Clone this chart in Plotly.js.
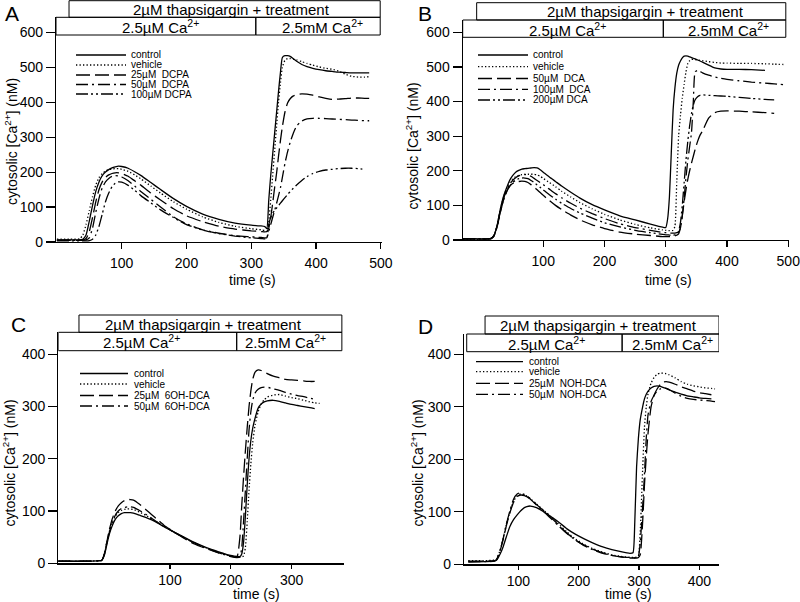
<!DOCTYPE html>
<html><head><meta charset="utf-8">
<script src="https://cdn.plot.ly/plotly-3.0.1.min.js"></script>
<style>html,body{margin:0;padding:0;background:#fff}#chart{width:800px;height:602px}</style>
</head><body><div id="chart"></div>
<script>
// ---------- Panel A (DCPA) ----------
const tA = [0,20,35,40,45, 50,55,60,65,70, 75,80,85,90,95, 100,110,120,130,145, 160,180,200,225,250, 275,300,315,321,324, 327,330,333,336,339, 342,345,348,352,356, 360,365,370,378,386, 395,405,415,425,435, 445,455,465,475,482];
const A_control = [5,6,6,8,20, 60,105,145,172,190, 200,207,212,215,217, 216,211,201,190,170, 150,124,102,80,65, 54,48,46,44,38, 120,190,250,310,370, 430,485,528,533,533, 531,524,517,508,502, 497,493,490,488,486, 485,484,484,484,484];
const A_vehicle = [8,8,9,20,50, 90,130,163,184,196, 203,207,209,210,210, 208,202,192,180,160, 140,115,94,72,56, 45,38,35,33,30, 60,120,190,260,330, 400,455,500,520,525, 525,523,521,516,511, 506,501,497,494,489, 480,474,472,472,473];
const A_25 = [5,5,5,6,10, 30,70,115,150,172, 185,192,196,198,198, 196,188,175,162,140, 120,95,75,58,45, 37,32,30,29,30, 40,70,110,155,196, 245,290,330,372,398, 410,418,422,424,423, 420,415,411,408,409, 410,412,412,411,411];
const A_50 = [5,5,5,5,6, 12,40,85,125,155, 172,182,188,190,189, 186,175,160,144,122, 100,72,52,35,25, 18,15,13,12,12, 30,50,70,90,110, 132,155,185,225,258, 285,312,332,346,352, 354,354,353,352,351, 350,349,348,347,347];
const A_100 = [3,3,3,3,3, 4,8,20,45,80, 115,140,158,168,172, 171,162,148,132,112, 92,70,50,34,24, 17,12,10,9,10, 50,70,82,90,97, 104,111,118,127,136, 144,154,163,176,187, 196,202,206,208,210, 211,211,210,208,null];
const A_names = ['control','vehicle','25µM\u00a0 DCPA','50µM\u00a0 DCPA','100µM DCPA'];

// ---------- Panel B (DCA) ----------
const tB = [-31,-10,10,15,20, 25,30,35,40,45, 50,55,60,65,70, 75,80,85,90,95, 100,110,120,130,145, 160,180,200,225,250, 275,295,300,303,306, 309,312,315,318,321, 324,327,330,333,336, 339,342,345,348,352, 356,360,370,380,390, 400,420,440,462,477, 492];
const B_control = [3,3,3,5,15, 45,90,125,150,172, 186,196,201,205,206, 207,208,209,208,203, 196,182,169,156,138, 121,102,87,70,58, 46,37,36,60,125, 250,375,440,482,505, 517,526,531,532,531, 529,527,525,523,520, 517,514,505,497,494, 493,493,492,490,null, null];
const B_vehicle = [2,2,3,5,15, 45,88,122,148,165, 176,183,187,189,190, 190,190,190,188,184, 178,166,154,141,124, 108,90,74,58,45, 35,29,28,27,27, 27,28,40,170,300, 360,410,450,485,510, 518,522,522,521,520, 519,518,515,513,511, 511,510,510,509,508, 507];
const B_50 = [3,3,3,4,12, 40,80,115,140,155, 163,167,169,170,169, 166,160,153,145,137, 129,114,100,88,72, 58,44,33,23,17, 13,10,10,10,10, 10,11,12,14,18, 35,70,110,145,175, 200,222,242,262,285, 303,315,352,368,372, 373,372,370,368,366, null];
const B_100 = [3,3,3,5,14, 42,85,118,143,160, 172,180,185,188,189, 188,184,178,172,166, 160,147,134,122,106, 92,76,62,47,36, 28,22,21,20,20, 20,20,20,21,23, 35,70,120,180,230, 270,310,400,486,490, 487,483,476,471,467, 464,460,456,453,451, 449];
const B_200 = [3,3,3,4,13, 42,82,115,138,155, 166,173,177,179,179, 177,172,166,159,152, 145,131,118,106,91, 78,63,50,38,28, 21,16,15,15,14, 14,14,15,16,25, 50,100,165,230,285, 330,365,390,405,414, 418,419,418,417,416, 415,412,409,406,405, null];
const B_names = ['control','vehicle','50µM\u00a0 DCA','100µM\u00a0 DCA','200µM DCA'];

// ---------- Panel C (6OH-DCA) ----------
const tC = [-84,-40,-15,-12,-8, -4,0,5,10,15, 20,25,30,35,40, 50,60,70,80,90, 100,120,140,160,180, 200,210,215,218,221, 224,227,230,233,236, 240,245,250,255,260, 270,280,290,300,310, 320,330,338,346];
const C_control = [4,4,5,6,15, 35,55,72,84,91, 95,97,97,97,96, 92,88,83,77,70, 64,52,40,30,22, 15,13,13,18,40, 90,150,200,235,258, 278,297,305,309,311, 312,310,307,304,302, 300,298,296,null];
const C_vehicle = [4,4,5,6,18, 40,60,78,90,97, 101,103,104,104,103, 98,92,85,78,71, 64,51,39,29,21, 14,12,12,12,14, 30,80,140,190,230, 265,290,305,313,318, 322,323,320,317,315, 312,309,307,306];
const C_25 = [4,4,5,6,18, 40,63,85,100,110, 116,120,122,122,121, 113,103,93,83,73, 65,50,37,28,20, 14,12,50,110,165, 215,260,300,330,352, 366,370,369,366,363, 358,355,352,351,350, 349,348,348,null];
const C_50 = [4,4,5,6,17, 38,58,78,92,100, 105,107,108,108,107, 101,94,86,78,71, 64,51,39,29,20, 13,11,12,30,80, 140,200,255,290,312, 326,333,336,337,337, 334,331,327,324,321, 319,316,314,null];
const C_names = ['control','vehicle','25µM\u00a0 6OH-DCA','50µM\u00a0 6OH-DCA'];

// ---------- Panel D (NOH-DCA) ----------
const tD = [17,45,60,64,70, 75,80,86,92,98, 104,110,114,120,130, 145,155,165,180,195, 210,225,240,255,270, 285,290,293,296,299, 302,306,309,312,315, 320,325,330,335,340, 345,350,360,370,380, 390,400,410,420,426];
const D_control = [4,5,6,8,20, 34,52,72,85,94, 102,108,110,111,108, 98,90,82,68,57, 48,40,33,28,24, 21,22,80,186,240, 275,300,315,324,330, 336,339,340,339,337, 335,332,328,324,321, 319,317,316,315,null];
const D_vehicle = [7,7,8,10,28, 50,75,100,120,131, 134,132,130,125,115, 100,90,79,62,48, 37,29,23,18,15, 13,13,13,14,16, 60,180,260,300,325, 345,356,362,364,364, 363,361,355,348,343, 340,338,336,335,334];
const D_25 = [6,6,7,9,27, 48,73,98,118,129, 132,131,129,124,114, 99,88,77,60,46, 36,28,22,17,14, 12,12,12,12,13, 18,80,150,205,250, 300,322,334,342,347, 348,347,343,338,334, 330,327,325,323,null];
const D_50 = [5,5,6,9,28, 50,76,102,124,134, 136,133,131,124,113, 97,86,75,59,46, 35,27,21,17,14, 13,13,12,12,15, 40,110,170,240,285, 310,322,330,334,336, 335,333,326,320,316, 314,313,312,311,310];
const D_names = ['control','vehicle','25µM\u00a0 NOH-DCA','50µM\u00a0 NOH-DCA'];

// ---------- Shared labels ----------
const boxTop = '2µM thapsigargin + treatment';
const boxLow = '2.5µM Ca<sup>2+</sup>';
const boxHigh = '2.5mM Ca<sup>2+</sup>';
const xTitle = 'time (s)';
const yTitle = 'cytosolic [Ca<sup>2+</sup>] (nM)';

// ---------- Drawing ----------
const W = 800, H = 602;
const FONT = '"Liberation Sans", Arial, Helvetica, sans-serif';
const PX = p => p / W, PY = p => 1 - p / H;
const DASH = {
  solid: 'solid',
  dot: '1.3px,2.2px',
  long: '14px,5px',
  dd: '12px,4px,2px,4px',
  ddd: '12px,3px,2px,3px,2px,3px'
};

const panels = [
  { id: '', letter: 'A', t: tA, data: [A_control, A_vehicle, A_25, A_50, A_100], names: A_names,
    styles: ['solid','dot','long','dd','ddd'],
    xdom: [56, 381.5], xr: [-1.4, 501], ydom: [17, 242], yr: [0, 643.8],
    xt: [100,200,300,400,500], yt: [0,100,200,300,400,500,600], xso: 2, xtl: 6,
    box1: [18.7, 499, 0.7, 17.3], box2: [-1.4, 499, 17.3, 35], div: 307,
    txt1: 269.8, txtL: 160, txtR: 410,
    leg: { x0: 76, x1: 126, tx: 129, rows: [55, 65, 75, 84.5, 94] },
    letterPos: [12, 0, 'top'], ytPos: [11, 142], xtPos: [253, 279.5] },
  { id: '2', letter: 'B', t: tB, data: [B_control, B_vehicle, B_50, B_100, B_200], names: B_names,
    styles: ['solid','dot','long','dd','ddd'],
    xdom: [462.7, 788.5], xr: [-31.5, 500.4], ydom: [20, 240], yr: [0, 635.5],
    xt: [100,200,300,400,500], yt: [0,100,200,300,400,500,600], xso: 2, xtl: 6,
    box1: [-8.7, 496, 2.7, 20], box2: [-31.5, 496, 20, 37.3], div: 296,
    txt1: 267, txtL: 140.4, txtR: 402,
    leg: { x0: 478, x1: 528, tx: 531, rows: [55, 66.7, 78.5, 89.3, 100] },
    letterPos: [424.7, 0, 'top'], ytPos: [412.5, 146], xtPos: [668, 279.5] },
  { id: '3', letter: 'C', t: tC, data: [C_control, C_vehicle, C_25, C_50], names: C_names,
    styles: ['solid','dot','long','dd'],
    xdom: [58.3, 344], xr: [-83.7, 386.2], ydom: [332.3, 563.3], yr: [0, 442.1],
    xt: [100,200,300], yt: [0,100,200,300,400], xso: 0, xtl: 4,
    box1: [-49.7, 382.7, 315, 332.3], box2: [-83.7, 382.7, 332.3, 350.7], div: 209.7,
    txt1: 154.8, txtL: 52.8, txtR: 290,
    leg: { x0: 80, x1: 128, tx: 132, rows: [373.5, 384, 395.5, 406] },
    letterPos: [18.3, 324.5, 'middle'], ytPos: [9.5, 463], xtPos: [256, 594] },
  { id: '4', letter: 'D', t: tD, data: [D_control, D_vehicle, D_25, D_50], names: D_names,
    styles: ['solid','dot','long','dd'],
    xdom: [464, 719], xr: [9.9, 432.6], ydom: [334, 564.3], yr: [0, 438.7],
    xt: [100,200,300,400], yt: [0,100,200,300,400], xso: 0, xtl: 4,
    box1: [44.8, 432.6, 316, 334], box2: [14.4, 432.6, 334, 351.7], div: 272,
    txt1: 232.6, txtL: 147, txtR: 355.5,
    leg: { x0: 476, x1: 523, tx: 527, rows: [361.7, 371.7, 383.3, 394.3] },
    letterPos: [425, 327, 'middle'], ytPos: [417.5, 463], xtPos: [628, 594] }
];

const traces = [];
const layout = {
  width: W, height: H, autosize: false,
  margin: { l: 0, r: 0, t: 0, b: 0, pad: 0 },
  paper_bgcolor: '#fff', plot_bgcolor: 'rgba(0,0,0,0)',
  font: { family: FONT, color: '#000', size: 14 },
  showlegend: false,
  shapes: [], annotations: []
};

panels.forEach(p => {
  const xa = 'x' + p.id, ya = 'y' + p.id;
  p.data.forEach((vals, i) => {
    traces.push({
      type: 'scatter', mode: 'lines', x: p.t, y: vals, name: p.names[i],
      xaxis: xa, yaxis: ya, connectgaps: false, hoverinfo: 'skip',
      line: { color: '#000', width: 1.3, dash: DASH[p.styles[i]], shape: 'spline', smoothing: 0.5 }
    });
  });
  const axCommon = {
    showline: true, linecolor: '#000', linewidth: 1.2, ticks: 'outside', tickcolor: '#000',
    tickwidth: 1.2, showgrid: false, zeroline: false, fixedrange: true,
    ticklabeloverflow: 'allow',
    tickfont: { family: FONT, size: 14, color: '#000' }
  };
  layout['xaxis' + p.id] = Object.assign({}, axCommon, {
    domain: [PX(p.xdom[0]), PX(p.xdom[1])], range: p.xr, anchor: ya,
    tickmode: 'array', tickvals: p.xt, ticklen: p.xtl, ticklabelstandoff: p.xso
  });
  layout['yaxis' + p.id] = Object.assign({}, axCommon, {
    domain: [PY(p.ydom[1]), PY(p.ydom[0])], range: p.yr, anchor: xa,
    tickmode: 'array', tickvals: p.yt, ticklen: 9
  });
  const box = (x0, x1, y0, y1) => ({ type: 'rect', xref: xa, yref: 'paper', x0: x0, x1: x1,
    y0: PY(y1), y1: PY(y0), line: { color: '#000', width: 1 }, fillcolor: 'rgba(0,0,0,0)', layer: 'above' });
  layout.shapes.push(box(p.box1[0], p.box1[1], p.box1[2], p.box1[3]));
  layout.shapes.push(box(p.box2[0], p.div, p.box2[2], p.box2[3]));
  layout.shapes.push(box(p.div, p.box2[1], p.box2[2], p.box2[3]));
  const ann = (x, xref, y, text, size, extra) => Object.assign({
    x: x, xref: xref, y: y, yref: 'paper', text: text, showarrow: false,
    font: { family: FONT, size: size, color: '#000' }, xanchor: 'center', yanchor: 'middle'
  }, extra || {});
  layout.annotations.push(ann(p.txt1, xa, PY((p.box1[2] + p.box1[3]) / 2 + 0.5), boxTop, 15));
  layout.annotations.push(ann(p.txtL, xa, PY((p.box2[2] + p.box2[3]) / 2 + 0.5), boxLow, 15));
  layout.annotations.push(ann(p.txtR, xa, PY((p.box2[2] + p.box2[3]) / 2 + 0.5), boxHigh, 15));
  // legend
  p.leg.rows.forEach((ry, i) => {
    layout.shapes.push({ type: 'line', xref: 'paper', yref: 'paper',
      x0: PX(p.leg.x0), x1: PX(p.leg.x1), y0: PY(ry), y1: PY(ry),
      line: { color: '#000', width: 1.3, dash: DASH[p.styles[i]] } });
    layout.annotations.push(ann(PX(p.leg.tx), 'paper', PY(ry), p.names[i], 10, { xanchor: 'left' }));
  });
  // titles and panel letter
  layout.annotations.push(ann(PX(p.letterPos[0]), 'paper', PY(p.letterPos[1]), p.letter, 21, { yanchor: p.letterPos[2] }));
  layout.annotations.push(ann(PX(p.ytPos[0]), 'paper', PY(p.ytPos[1]), yTitle, 14, { textangle: -90 }));
  layout.annotations.push(ann(PX(p.xtPos[0]), 'paper', PY(p.xtPos[1]), xTitle, 14));
});

Plotly.newPlot('chart', traces, layout, { staticPlot: true, displayModeBar: false });
</script>
</body></html>
